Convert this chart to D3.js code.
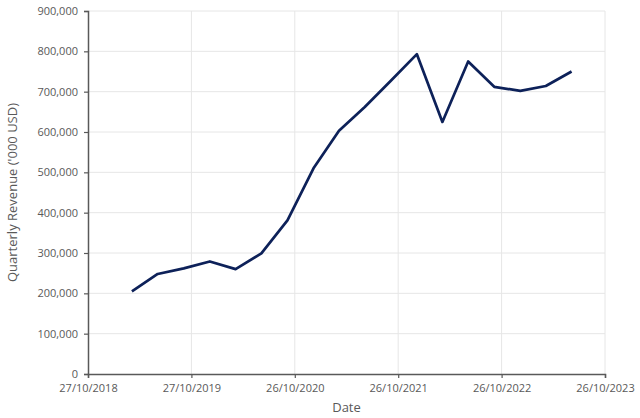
<html>
<script src="https://d3js.org/d3.v7.min.js"></script>
<style>
    body { margin: 0; background: #fff; }
    text { font-family: "Open Sans", sans-serif; fill: #595959; }
</style>
<body>
</body>
<script>
    var margin = {top: 11, right: 35, bottom: 44, left: 88};
    var width = 640 - margin.left - margin.right,
        height = 418 - margin.top - margin.bottom;

    // quarter end dates and revenue ('000 USD)
    let dates = ["31/03/2019", "30/06/2019", "30/09/2019", "31/12/2019",
                 "31/03/2020", "30/06/2020", "30/09/2020", "31/12/2020",
                 "31/03/2021", "30/06/2021", "30/09/2021", "31/12/2021",
                 "31/03/2022", "30/06/2022", "30/09/2022", "31/12/2022",
                 "31/03/2023", "30/06/2023"];
    let revenue = [205000, 248000, 262000, 279000,
                   260000, 299000, 381000, 510000,
                   603000, 662000, 727000, 793000,
                   625000, 775000, 712000, 702000,
                   714000, 750000];
    let xTickLabels = ["27/10/2018", "27/10/2019", "26/10/2020", "26/10/2021", "26/10/2022", "26/10/2023"];
    let yTicks = [0, 100000, 200000, 300000, 400000, 500000, 600000, 700000, 800000, 900000];

    let parse = d3.timeParse("%d/%m/%Y");
    let xTicks = xTickLabels.map(parse);
    let data = dates.map((d, i) => ({date: parse(d), value: revenue[i]}));

    let svg = d3.select("body").append("svg")
        .attr("width", 640)
        .attr("height", 418)
        .append("g")
        .attr("transform", "translate(" + margin.left + "," + margin.top + ")");

    let x = d3.scaleTime()
        .domain([xTicks[0], xTicks[xTicks.length - 1]])
        .range([0, width]);

    let y = d3.scaleLinear()
        .domain([0, 900000])
        .range([height, 0]);

    //gridlines
    svg.append("g")
        .selectAll("line.h")
        .data(yTicks.slice(1))
        .enter().append("line")
        .attr("x1", 0)
        .attr("x2", width)
        .attr("y1", d => y(d))
        .attr("y2", d => y(d))
        .attr("stroke", "#e6e6e6");

    svg.append("g")
        .selectAll("line.v")
        .data(xTicks.slice(1))
        .enter().append("line")
        .attr("x1", d => x(d))
        .attr("x2", d => x(d))
        .attr("y1", 0)
        .attr("y2", height)
        .attr("stroke", "#e6e6e6");

    //axes
    let fmt = d3.format(",");
    let yAxis = svg.append("g")
        .call(d3.axisLeft(y).tickValues(yTicks).tickFormat(d => fmt(d)).tickSizeOuter(0).tickSize(4).tickPadding(6));

    let xAxis = svg.append("g")
        .attr("transform", "translate(0," + height + ")")
        .call(d3.axisBottom(x).tickValues(xTicks).tickFormat((d, i) => xTickLabels[i]).tickSizeOuter(0).tickSize(4).tickPadding(6));

    [yAxis, xAxis].forEach(a => {
        a.select(".domain").attr("stroke", "#595959").attr("stroke-width", 1.5);
        a.selectAll(".tick line").attr("stroke", "#595959").attr("stroke-width", 1.2);
        a.selectAll(".tick text").style("font-size", "11px").attr("fill", "#595959");
    });

    //axis titles
    svg.append("text")
        .attr("transform", "rotate(-90)")
        .attr("x", -height / 2)
        .attr("y", -margin.left + 17)
        .attr("text-anchor", "middle")
        .style("font-size", "13px")
        .text("Quarterly Revenue ('000 USD)");

    svg.append("text")
        .attr("x", width / 2)
        .attr("y", height + 38)
        .attr("text-anchor", "middle")
        .style("font-size", "13px")
        .text("Date");

    //revenue line
    let line = d3.line()
        .x(d => x(d.date))
        .y(d => y(d.value));

    svg.append("path")
        .datum(data)
        .attr("d", line)
        .attr("fill", "none")
        .attr("stroke", "#0d2159")
        .attr("stroke-width", 2.7)
        .attr("stroke-linejoin", "round");
</script>
</html>
